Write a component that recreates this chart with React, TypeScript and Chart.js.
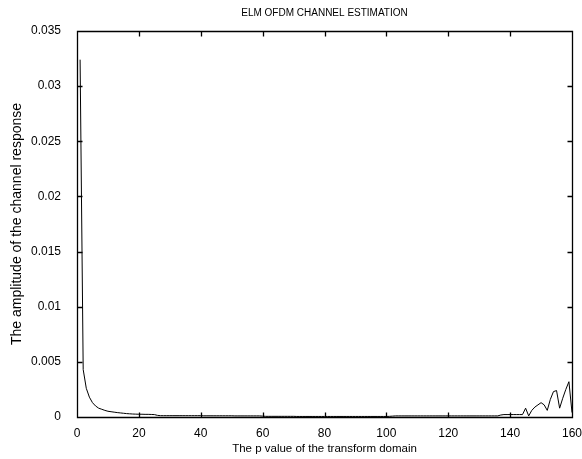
import React, { useEffect, useRef } from "react";
import { Chart, registerables } from "chart.js";

Chart.register(...registerables);

const chartTitle = "ELM OFDM CHANNEL ESTIMATION";
const xAxisLabel = "The p value of the transform domain";
const yAxisLabel = "The amplitude of the channel response";

const xTickValues = [0, 20, 40, 60, 80, 100, 120, 140, 160];
const yTickValues = [0, 0.005, 0.01, 0.015, 0.02, 0.025, 0.03, 0.035];

// amplitude at p = 1 .. 160
const amplitude = [
  0.0324, 0.0043, 0.0026, 0.0018, 0.0013, 0.001, 0.0008, 0.0007, 0.0006, 0.00052,
  0.00048, 0.00044, 0.0004, 0.00037, 0.00034, 0.00031, 0.00029, 0.00027, 0.00026, 0.00025,
  0.00025, 0.00024, 0.00024, 0.00023, 0.00022, 0.00015, 0.00012, 0.00012, 0.00012, 0.00012,
  0.00012, 0.00012, 0.00012, 0.00012, 0.00012, 0.00012, 0.00012, 0.00012, 0.00012, 0.00012,
  0.00011, 0.00011, 0.00011, 0.00011, 0.00011, 0.00011, 0.00011, 0.00011, 0.00011, 0.00011,
  0.0001, 0.0001, 0.0001, 0.0001, 0.0001, 0.0001, 0.0001, 0.0001, 0.0001, 0.00008,
  0.00006, 0.00006, 0.00006, 0.00006, 0.00006, 0.00006, 0.00006, 0.00006, 0.00006, 0.00006,
  0.00005, 0.00005, 0.00005, 0.00005, 0.00005, 0.00005, 0.00005, 0.00005, 0.00005, 0.00005,
  0.00005, 0.00005, 0.00005, 0.00005, 0.00005, 0.00005, 0.00005, 0.00005, 0.00005, 0.00005,
  0.00005, 0.00005, 0.00005, 0.00005, 0.00005, 0.00005, 0.00005, 0.00005, 0.00005, 0.00005,
  0.00006, 0.00008, 0.0001, 0.0001, 0.0001, 0.0001, 0.0001, 0.0001, 0.0001, 0.0001,
  0.0001, 0.0001, 0.0001, 0.0001, 0.0001, 0.0001, 0.0001, 0.0001, 0.0001, 0.0001,
  0.0001, 0.0001, 0.0001, 0.0001, 0.0001, 0.0001, 0.0001, 0.0001, 0.0001, 0.0001,
  0.0001, 0.0001, 0.0001, 0.0001, 0.0001, 0.0001, 0.00018, 0.00022, 0.00022, 0.00022,
  0.00022, 0.00022, 0.00022, 0.00022, 0.0008, 0.0001, 0.0006, 0.0009, 0.0011, 0.0013,
  0.0011, 0.0006, 0.0016, 0.0023, 0.0024, 0.0008, 0.0017, 0.0025, 0.0032, 0.0004,
];

const FONT = "'Liberation Sans', Arial, sans-serif";

const framePlugin = {
  id: "matlabFrame",
  afterDraw(chart: any) {
    const ctx = chart.ctx;
    const area = chart.chartArea;
    const sx = chart.scales.x;
    const sy = chart.scales.y;
    const left = Math.round(area.left) + 0.5;
    const right = Math.round(area.right) + 0.5;
    const top = Math.round(area.top) + 0.5;
    const bottom = Math.round(area.bottom) + 0.5;
    const len = 5;
    ctx.save();
    ctx.strokeStyle = "#000000";
    ctx.lineWidth = 1.3;
    ctx.beginPath();
    ctx.moveTo(left, top);
    ctx.lineTo(right, top);
    ctx.lineTo(right, bottom);
    ctx.lineTo(left, bottom);
    ctx.closePath();
    for (let i = 0; i < xTickValues.length; i++) {
      const x = Math.round(sx.getPixelForValue(xTickValues[i])) + 0.5;
      ctx.moveTo(x, bottom);
      ctx.lineTo(x, bottom - len);
      ctx.moveTo(x, top);
      ctx.lineTo(x, top + len);
    }
    for (let i = 0; i < yTickValues.length; i++) {
      const y = Math.round(sy.getPixelForValue(yTickValues[i])) + 0.5;
      ctx.moveTo(left, y);
      ctx.lineTo(left + len, y);
      ctx.moveTo(right, y);
      ctx.lineTo(right - len, y);
    }
    ctx.stroke();
    ctx.restore();
  },
};

export default function App() {
  const canvasRef = useRef<HTMLCanvasElement | null>(null);

  useEffect(() => {
    document.body.style.margin = "0";
    const canvas = canvasRef.current;
    if (!canvas) return;
    const points = amplitude.map((v, i) => ({ x: i + 1, y: v }));
    const chart = new Chart(canvas, {
      type: "line",
      data: {
        datasets: [
          {
            data: points,
            borderColor: "#000",
            borderWidth: 1,
            pointRadius: 0,
            fill: false,
            tension: 0,
          },
        ],
      },
      options: {
        responsive: false,
        animation: false,
        devicePixelRatio: 1,
        layout: { padding: { top: 0, right: 10, bottom: 0, left: 0 } },
        plugins: {
          legend: { display: false },
          tooltip: { enabled: false },
          title: {
            display: true,
            text: chartTitle,
            fullSize: false,
            color: "#000",
            font: { family: FONT, size: 10, weight: "normal" },
            padding: { top: 7, bottom: 12 },
          },
        },
        scales: {
          x: {
            type: "linear",
            min: 0,
            max: 160,
            afterBuildTicks: (scale: any) => {
              scale.ticks = xTickValues.map((v) => ({ value: v }));
            },
            afterFit: (scale: any) => {
              scale.height = 42;
              scale.paddingLeft = 0;
              scale.paddingRight = 0;
            },
            grid: { display: false },
            border: { display: false },
            ticks: {
              color: "#000",
              font: { family: FONT, size: 12 },
              padding: 1,
              maxRotation: 0,
              autoSkip: false,
              callback: (v: any) => String(v),
            },
            title: {
              display: true,
              text: xAxisLabel,
              color: "#000",
              font: { family: FONT, size: 11.5 },
              padding: { top: 0, bottom: 3 },
            },
          },
          y: {
            type: "linear",
            min: 0,
            max: 0.035,
            afterBuildTicks: (scale: any) => {
              scale.ticks = yTickValues.map((v) => ({ value: v }));
            },
            afterFit: (scale: any) => {
              scale.width = 77;
            },
            grid: { display: false },
            border: { display: false },
            ticks: {
              color: "#000",
              font: { family: FONT, size: 12 },
              padding: 8,
              autoSkip: false,
              callback: (v: any) => String(Number(Number(v).toFixed(3))),
            },
            title: {
              display: true,
              text: yAxisLabel,
              color: "#000",
              font: { family: FONT, size: 14 },
              padding: { top: 9, bottom: 0 },
            },
          },
        },
      },
      plugins: [framePlugin],
    } as any);
    return () => chart.destroy();
  }, []);

  return (
    <div style={{ width: 582, height: 459, background: "#fff" }}>
      <canvas ref={canvasRef} width={582} height={459} />
    </div>
  );
}
